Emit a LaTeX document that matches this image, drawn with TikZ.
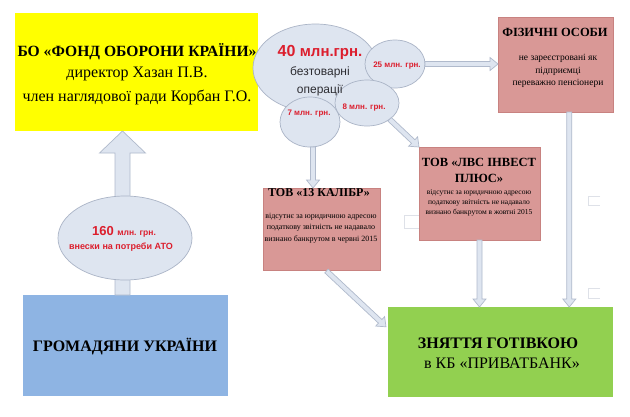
\documentclass[tikz,border=0pt]{standalone}
\usepackage{fontspec}
\setmainfont{Liberation Serif}
\newfontfamily\arial{Liberation Sans}
\usetikzlibrary{calc,shapes.geometric}
\definecolor{yel}{RGB}{255,255,0}
\definecolor{pinkbox}{RGB}{217,152,150}
\definecolor{pinkedge}{RGB}{200,130,128}
\definecolor{greenbox}{RGB}{146,208,80}
\definecolor{bluebox}{RGB}{142,180,227}
\definecolor{ellfill}{RGB}{222,229,240}
\definecolor{elledge}{RGB}{170,180,198}
\definecolor{arrfill}{RGB}{222,229,240}
\definecolor{arredge}{RGB}{176,186,204}
\definecolor{redtxt}{RGB}{220,30,45}
\definecolor{greytxt}{RGB}{45,45,50}
\definecolor{ghost}{RGB}{222,225,232}
\newcommand\fs[1]{\fontsize{#1}{#1}\selectfont}
\newcommand\blockarrow[5]{%
  \path (#2) coordinate (ba-tip) ($(#2)!#5!(#1)$) coordinate (ba-base);
  \filldraw[arrowsty] ($(#1)!#3!90:(#2)$) -- ($(ba-base)!#3!90:(#2)$) -- ($(ba-base)!#4!90:(#2)$) -- (ba-tip) -- ($(ba-base)!#4!-90:(#2)$) -- ($(ba-base)!#3!-90:(#2)$) -- ($(#1)!#3!-90:(#2)$) -- cycle;
}
\begin{document}
\begin{tikzpicture}[x=1pt,y=-1pt,
  boxsty/.style={rectangle,inner sep=0pt,outer sep=0pt},
  pinksty/.style={boxsty,fill=pinkbox,draw=pinkedge,line width=0.5pt},
  ellsty/.style={ellipse,inner sep=0pt,outer sep=0pt,fill=ellfill,draw=elledge,line width=0.7pt},
  arrowsty/.style={fill=arrfill,draw=arredge,line width=0.7pt,line join=miter},
  ghoststy/.style={draw=ghost,line width=0.8pt},
  txt/.style={inner sep=0pt,align=center}]
\useasboundingbox (0,0) rectangle (630,416);
\fill[white] (0,0) rectangle (630,416);

% boxes
\node[boxsty,fill=yel,minimum width=243pt,minimum height=118pt] (yellow) at (136.5,72) {};
\node[pinksty,minimum width=115pt,minimum height=95pt] (phys) at (555.5,64.5) {};
\node[pinksty,minimum width=117pt,minimum height=82pt] (kal) at (321.5,229) {};
\node[pinksty,minimum width=121pt,minimum height=93pt] (lvs) at (479.5,193.5) {};
\node[boxsty,fill=greenbox,minimum width=225pt,minimum height=90pt] (green) at (500.5,352) {};
\node[boxsty,fill=bluebox,minimum width=205pt,minimum height=101pt] (blue) at (125.5,345.5) {};

% ghost marks
\draw[ghoststy] (600,196) -- (588,196) -- (588,205) -- (600,205);
\draw[ghoststy] (600,288) -- (588,288) -- (588,298) -- (600,298);
\draw[ghoststy] (419,215) -- (404,215) -- (404,228) -- (419,228);

% big arrow citizens -> fund
\coordinate (bigS) at ($(blue.north)+(-3,0)$);
\coordinate (bigE) at (bigS |- yellow.south);
\blockarrow{bigS}{bigE}{7.5pt}{23pt}{22pt}

% ellipses
\node[ellsty,minimum width=134pt,minimum height=84pt] (e160) at (125,238) {};
\node[ellsty,minimum width=125pt,minimum height=88pt] (e40) at (315.5,68) {};
\node[ellsty,minimum width=60pt,minimum height=48pt] (e25) at (395,64) {};
\node[ellsty,minimum width=60pt,minimum height=50pt] (e7) at (310,122) {};
\node[ellsty,minimum width=64pt,minimum height=46pt] (e8) at (367,103) {};

% small arrows
\coordinate (a25E) at (e25.east -| phys.west);
\blockarrow{e25.east}{a25E}{2.5pt}{6.5pt}{8pt}
\coordinate (a7S) at ($(e7.south)+(3,0)$);
\coordinate (a7E) at (a7S |- kal.north);
\blockarrow{a7S}{a7E}{2.5pt}{6.5pt}{8pt}
\blockarrow{e8.south east}{lvs.north west}{2.5pt}{6.5pt}{8pt}
\coordinate (aPS) at ($(phys.south west)!0.62!(phys.south east)$);
\coordinate (aPE) at (aPS |- green.north);
\blockarrow{aPS}{aPE}{2.5pt}{6.5pt}{8pt}
\coordinate (aLE) at (lvs.south |- green.north);
\blockarrow{lvs.south}{aLE}{2.5pt}{6.5pt}{8pt}
\coordinate (aKS) at ($(kal.south)+(5,1)$);
\coordinate (aKE) at ($(green.north west)!0.22!(green.south west)+(-2,0)$);
\blockarrow{aKS}{aKE}{2.5pt}{6.5pt}{8pt}

% texts
\node[txt] (tY1) at (137,52) {\fs{15.6}\bfseries БО «ФОНД ОБОРОНИ КРАЇНИ»};
\node[txt] (tY2) at (137,74) {\fs{16}директор Хазан П.В.};
\node[txt] (tY3) at (137,97) {\fs{16}член наглядової ради Корбан Г.О.};

\node[txt,text=redtxt] (t40) at (320,52) {\arial\bfseries\fs{16}40 \fs{15}млн.грн.};
\node[txt,text=greytxt] (t40b) at (320,72) {\arial\fs{12}безтоварні};
\node[txt,text=greytxt] (t40c) at (320,90) {\arial\fs{12}операції};
\node[txt,text=redtxt] (t25) at (397,66) {\arial\bfseries\fs{8}25 млн. грн.};
\node[txt,text=redtxt] (t8) at (364,108) {\arial\bfseries\fs{8}8 млн. грн.};
\node[txt,text=redtxt] (t7) at (309,114) {\arial\bfseries\fs{8}7 млн. грн.};

\node[txt,text=redtxt] (t160) at (124,232) {\arial\bfseries\fs{13}160 \fs{8.5}млн. грн.};
\node[txt,text=redtxt] (t160b) at (121,247) {\arial\bfseries\fs{9}внески на потреби АТО};

\node[txt] (tP1) at (555,32) {\fs{12.5}\bfseries ФІЗИЧНІ ОСОБИ};
\node[txt] (tP2) at (558,58) {\fs{9.5}не зареєстровані як};
\node[txt] (tP3) at (558,71) {\fs{9.5}підприємці};
\node[txt] (tP4) at (558,83) {\fs{9.5}переважно пенсіонери};

\node[txt] (tK1) at (319,193) {\fs{12}\bfseries ТОВ «13 КАЛІБР»};
\node[txt] (tK2) at (321,217) {\fs{8}відсутнє за юридичною адресою};
\node[txt] (tK3) at (321,228) {\fs{8}податкову звітність не надавало};
\node[txt] (tK4) at (321,239) {\fs{8}визнано банкрутом в червні 2015};

\node[txt] (tL1) at (479,162) {\fs{12.5}\bfseries ТОВ «ЛВС ІНВЕСТ};
\node[txt] (tL2) at (479,178) {\fs{12.5}\bfseries ПЛЮС»};
\node[txt] (tL3) at (479,193) {\fs{7.5}відсутнє за юридичною адресою};
\node[txt] (tL4) at (479,203) {\fs{7.5}податкову звітність не надавало};
\node[txt] (tL5) at (479,213) {\fs{7.5}визнано банкрутом в жовтні 2015};

\node[txt] (tG1) at (498,343) {\fs{16}\bfseries ЗНЯТТЯ ГОТІВКОЮ};
\node[txt] (tG2) at (502,363) {\fs{16}в КБ «ПРИВАТБАНК»};

\node[txt] (tB) at (125,347) {\fs{16}\bfseries ГРОМАДЯНИ УКРАЇНИ};
\end{tikzpicture}
\end{document}
